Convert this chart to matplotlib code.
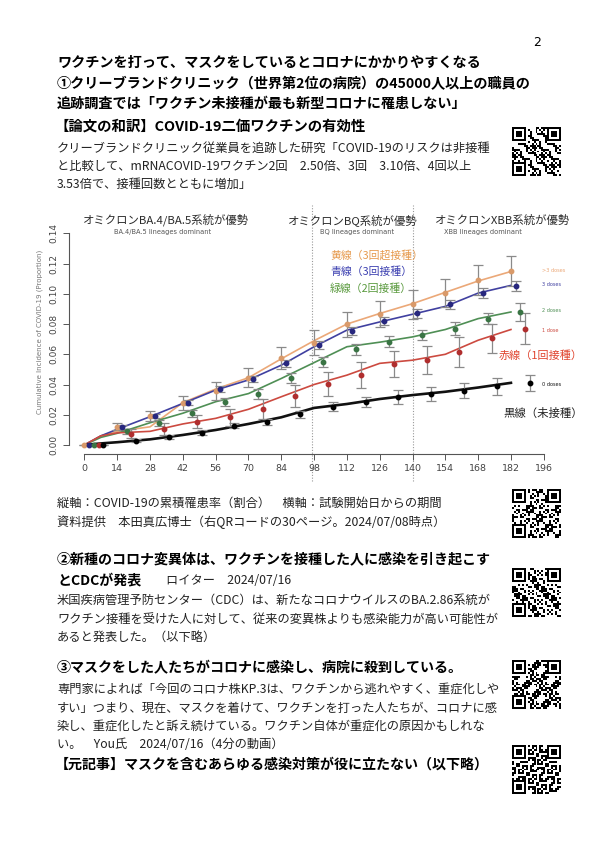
import matplotlib
matplotlib.use("Agg")
import matplotlib.pyplot as plt
import numpy as np

plt.rcParams['font.family'] = ['Noto Sans CJK JP', 'DejaVu Sans']

W, H = 595, 841

# ---- chart data ----
days = [0, 7, 14, 28, 42, 56, 70, 84, 98, 112, 126, 140, 154, 168, 182]
orange_line = [0, .006, .009, .012, .028, .037, .0445, .057, .069, .080, .087, .0935, .101, .1085, .1148]
blue_line = [0, .006, .0104, .0187, .0275, .0363, .043, .0528, .065, .076, .0814, .0865, .0917, .1005, .1056]
green_line = [0, .005, .0077, .0147, .021, .0286, .034, .044, .0545, .065, .068, .0715, .0764, .0836, .088]
red_line = [0, .006, .008, .009, .0139, .0176, .0236, .0319, .040, .0462, .054, .0561, .060, .0693, .0764]
black_line = [0, .001, .0018, .0037, .0066, .0099, .0139, .0183, .0245, .0271, .0304, .033, .0352, .038, .0411]

pt_days = [0, 14, 28, 42, 56, 70, 84, 98, 112, 126, 140, 154, 168, 182]
orange_pts = [0, .0121, .0194, .028, .0356, .0444, .0575, .0677, .080, .0867, .093, .1007, .109, .115]
orange_err = [0, .0022, .0033, .0047, .0058, .0063, .0072, .0083, .0083, .0086, .0094, .0094, .0099, .0099]
blue_pts = [0, .0117, .0191, .0279, .0368, .0436, .054, .066, .0753, .082, .087, .093, .1006, .1053]
blue_err = [0, .0012, .0014, .0017, .0019, .002, .0022, .0025, .0027, .0028, .003, .003, .0031, .0032]
green_pts = [0, .009, .0147, .021, .0282, .0337, .0445, .055, .0634, .0682, .0727, .077, .0836, .088]
green_err = [0, .0017, .002, .0024, .0027, .003, .0033, .0035, .0037, .0037, .0033, .0044, .0037, .006]
red_pts = [0, .0074, .0105, .0153, .0182, .0239, .0324, .0403, .0462, .0535, .056, .0616, .0705, .077]
red_err = [0, .003, .004, .0043, .0055, .0068, .007, .0077, .0085, .0088, .0092, .0097, .0097, .0105]
black_pts = [0, .0029, .0055, .0081, .0128, .015, .0202, .0253, .0284, .0319, .0335, .0358, .0387, .0411]
black_err = [0, .001, .0013, .0016, .0018, .002, .0025, .0028, .0035, .0046, .0047, .005, .0055, .0055]

series = [
    # line, points, err, day offset, line colour, marker colour, dose label
    (orange_line, orange_pts, orange_err, 0, '#EBA878', '#D99A6A', '>3 doses'),
    (blue_line, blue_pts, blue_err, 2, '#4040A0', '#27277E', '3 doses'),
    (green_line, green_pts, green_err, 4, '#4F8F55', '#3A7444', '2 doses'),
    (red_line, red_pts, red_err, 6, '#CC4A40', '#B02E2E', '1 dose'),
    (black_line, black_pts, black_err, 8, '#111111', '#000000', '0 doses'),
]

x_ticks = list(range(0, 197, 14))
y_ticks = [0.00, 0.02, 0.04, 0.06, 0.08, 0.10, 0.12, 0.14]
variant_lines = [97, 140]


def fx(x):
    return x / W


def fy(y):
    return 1 - y / H


fig = plt.figure(figsize=(W / 100, H / 100), dpi=100)
fig.patch.set_facecolor('white')

BOLD = 10.1
BODY = 8.8

# ---- page text ----
fig.text(fx(533), fy(42), '2', fontsize=9, ha='left', va='center', family='DejaVu Sans')

title_lines = [
    (63, 'ワクチンを打って、マスクをしているとコロナにかかりやすくなる'),
    (84, '①クリーブランドクリニック（世界第2位の病院）の45000人以上の職員の'),
    (104, '追跡調査では「ワクチン未接種が最も新型コロナに罹患しない」'),
]
for y, s in title_lines:
    fig.text(fx(57), fy(y), s, fontsize=10.2, fontweight='bold', ha='left', va='center')

fig.text(fx(55), fy(127), '【論文の和訳】COVID-19二価ワクチンの有効性', fontsize=10.4,
         fontweight='bold', ha='left', va='center')

body1 = [
    (148, 'クリーブランドクリニック従業員を追跡した研究「COVID-19のリスクは非接種'),
    (166, 'と比較して、mRNACOVID-19ワクチン2回\u30002.50倍、3回\u30003.10倍、4回以上'),
    (184, '3.53倍で、接種回数とともに増加」'),
]
for y, s in body1:
    fig.text(fx(57), fy(y), s, fontsize=BODY, ha='left', va='center', color='#222222')

body2 = [
    (503, '縦軸：COVID-19の累積罹患率（割合）\u3000横軸：試験開始日からの期間'),
    (522, '資料提供\u3000本田真広博士（右QRコードの30ページ。2024/07/08時点）'),
]
for y, s in body2:
    fig.text(fx(57), fy(y), s, fontsize=BODY, ha='left', va='center', color='#222222')

fig.text(fx(57), fy(559), '②新種のコロナ変異体は、ワクチンを接種した人に感染を引き起こす',
         fontsize=BOLD, fontweight='bold', ha='left', va='center')
fig.text(fx(57), fy(580), 'とCDCが発表', fontsize=BOLD, fontweight='bold', ha='left', va='center')
fig.text(fx(166), fy(580), 'ロイター\u30002024/07/16', fontsize=BODY, ha='left', va='center', color='#222222')

body3 = [
    (600, '米国疾病管理予防センター（CDC）は、新たなコロナウイルスのBA.2.86系統が'),
    (619, 'ワクチン接種を受けた人に対して、従来の変異株よりも感染能力が高い可能性が'),
    (637, 'あると発表した。（以下略）'),
]
for y, s in body3:
    fig.text(fx(57), fy(y), s, fontsize=BODY, ha='left', va='center', color='#222222')

fig.text(fx(57), fy(668), '③マスクをした人たちがコロナに感染し、病院に殺到している。',
         fontsize=BOLD, fontweight='bold', ha='left', va='center')

body4 = [
    (689, '専門家によれば「今回のコロナ株KP.3は、ワクチンから逃れやすく、重症化しや'),
    (708, 'すい」つまり、現在、マスクを着けて、ワクチンを打った人たちが、コロナに感'),
    (726, '染し、重症化したと訴え続けている。ワクチン自体が重症化の原因かもしれな'),
    (745, 'い。\u3000You氏\u30002024/07/16（4分の動画）'),
]
for y, s in body4:
    fig.text(fx(57), fy(y), s, fontsize=BODY, ha='left', va='center', color='#222222')

fig.text(fx(55), fy(765), '【元記事】マスクを含むあらゆる感染対策が役に立たない（以下略）',
         fontsize=BOLD, fontweight='bold', ha='left', va='center')


# ---- QR code look-alikes ----
def qr_pattern(k):
    n = 25
    i, j = np.mgrid[0:n, 0:n]
    m = ((i * (j + k) + 3 * j + k * i) % 5 < 2) ^ ((i + 2 * j + k) % 3 == 0)
    m = m.astype(float)
    for (r, c) in [(0, 0), (0, n - 7), (n - 7, 0)]:
        m[r:r + 8 if r == 0 else r + 7, c:c + 8 if c == 0 else c + 7] = 0
        m[r:r + 7, c:c + 7] = 1
        m[r + 1:r + 6, c + 1:c + 6] = 0
        m[r + 2:r + 5, c + 2:c + 5] = 1
    return m


qr_boxes = [(512, 127), (512, 489), (512, 568), (512, 660), (512, 745)]
for k, (qx, qy) in enumerate(qr_boxes):
    qax = fig.add_axes([fx(qx), fy(qy + 49), 49 / W, 49 / H])
    qax.imshow(qr_pattern(k + 1), cmap='gray_r', interpolation='nearest')
    qax.axis('off')

# ---- chart ----
ax_left, ax_right, ax_top, ax_bot = 69, 555, 210, 454
ax = fig.add_axes([fx(ax_left), fy(ax_bot), (ax_right - ax_left) / W, (ax_bot - ax_top) / H])
ax.set_xlim(-6.6, 200.8)
ax.set_ylim(-0.006, 0.1555)

for line, pts, err, off, lc, mc, lab in series:
    lw = 1.9 if lc == '#111111' else 1.2
    ax.plot(days, line, color=lc, lw=lw, zorder=3)
    ax.errorbar([d + off for d in pt_days], pts, yerr=err, fmt='o', ms=3.2,
                color=mc, ecolor='#8a8a8a', elinewidth=0.9, capsize=3.5, capthick=0.9, zorder=4)

for v in variant_lines:
    ax.plot([v, v], [-0.024, 0.159], color='#999999', lw=0.8, ls=(0, (1, 1.5)),
            clip_on=False, zorder=1)

for s in ['top', 'right']:
    ax.spines[s].set_visible(False)
ax.spines['left'].set_bounds(0, 0.14)
ax.spines['bottom'].set_bounds(0, 196)
for s in ['left', 'bottom']:
    ax.spines[s].set_color('#555555')
    ax.spines[s].set_linewidth(0.8)

ax.set_xticks(x_ticks)
ax.set_xticklabels([str(t) for t in x_ticks], fontsize=6.8, color='#333333', family='DejaVu Sans')
ax.set_yticks(y_ticks)
ax.set_yticklabels(['%.2f' % t for t in y_ticks], fontsize=6.5, color='#555555',
                   rotation=90, va='center', family='DejaVu Sans')
ax.tick_params(axis='both', colors='#555555', length=4, width=0.7, labelcolor='#444444')
ax.set_ylabel('Cumulative Incidence of COVID-19 (Proportion)', fontsize=5.0, color='#777777',
              family='DejaVu Sans', labelpad=5)

# variant period headings
heads = [
    (166, 'オミクロンBA.4/BA.5系統が優勢', 'BA.4/BA.5 lineages dominant', 163),
    (353, 'オミクロンBQ系統が優勢', 'BQ lineages dominant', 357),
    (503, 'オミクロンXBB系統が優勢', 'XBB lineages dominant', 483),
]
for x, jp, en, xe in heads:
    fig.text(fx(x), fy(220), jp, fontsize=8.2, ha='center', va='center', color='#2a2a2a')
    fig.text(fx(xe), fy(232), en, fontsize=4.8, ha='center', va='center', color='#555555',
             family='DejaVu Sans')

# colour key labels in Japanese
fig.text(fx(330), fy(255), '黄線（3回超接種）', fontsize=7.8, color='#E69A4E', ha='left', va='center')
fig.text(fx(330), fy(272), '青線（3回接種）', fontsize=7.8, color='#3B3FB0', ha='left', va='center')
fig.text(fx(330), fy(289), '緑線（2回接種）', fontsize=7.8, color='#5A9A3E', ha='left', va='center')
fig.text(fx(499), fy(356), '赤線（1回接種）', fontsize=8.0, color='#E0452F', ha='left', va='center')
fig.text(fx(503), fy(413), '黒線（未接種）', fontsize=8.2, color='#222222', ha='left', va='center')

# small dose labels at right
dose_y = [270, 284, 311, 330, 384]
for (line, pts, err, off, lc, mc, lab), y in zip(series, dose_y):
    fig.text(fx(542), fy(y), lab, fontsize=3.6, color=lc, ha='left', va='center',
             family='DejaVu Sans')

fig.savefig('out.png', dpi=100, facecolor='white')
